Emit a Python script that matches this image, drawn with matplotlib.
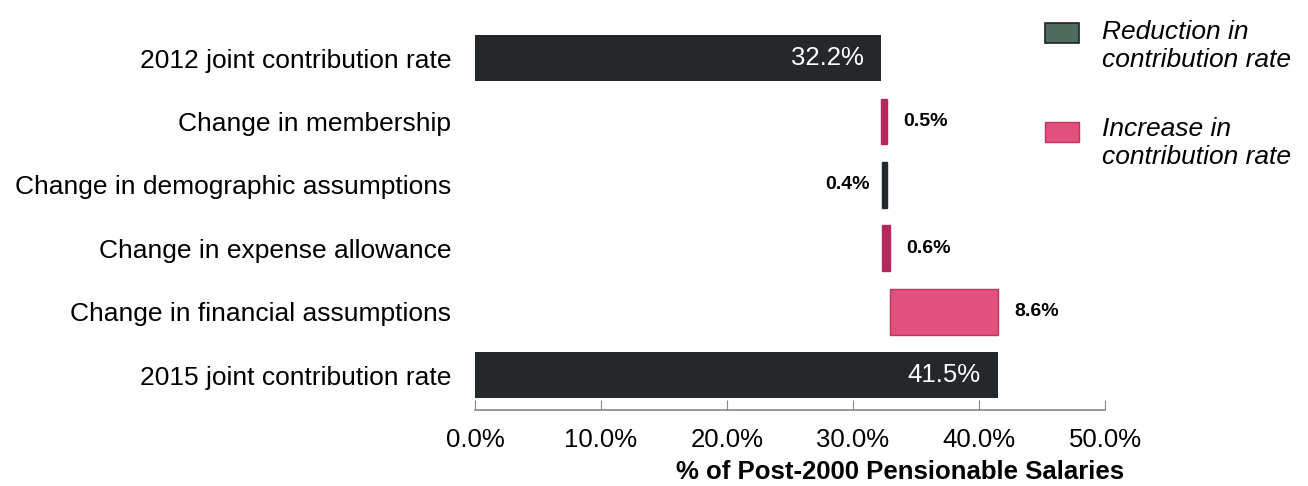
import matplotlib
matplotlib.use("Agg")
import matplotlib.pyplot as plt
from matplotlib.patches import Rectangle

plt.rcParams['font.family'] = ['Liberation Sans', 'DejaVu Sans']

categories = [
    "2012 joint contribution rate",
    "Change in membership",
    "Change in demographic assumptions",
    "Change in expense allowance",
    "Change in financial assumptions",
    "2015 joint contribution rate",
]
start_rate = 32.2
changes = [0.5, -0.4, 0.6, 8.6]
end_rate = 41.5
x_ticks = [0, 10, 20, 30, 40, 50]

dark = "#25282a"
pink_thin = "#b8275c"
pink_fill = "#e2517d"
pink_edge = "#c23262"
legend_dark = "#4e6b5e"

W, H = 1308, 486
fig = plt.figure(figsize=(W / 100, H / 100), dpi=100)
ax = fig.add_axes([475 / W, 1 - 410 / H, (1105 - 475) / W, 390 / H])

h = 0.72
# opening and closing totals
ax.barh(0, start_rate, height=h, color=dark, zorder=3)
ax.barh(5, end_rate, height=h, color=dark, zorder=3)
ax.text(start_rate - 1.35, 0, f"{start_rate:.1f}%", color="white", ha="right",
        va="center", fontsize=18.5)
ax.text(end_rate - 1.35, 5, f"{end_rate:.1f}%", color="white", ha="right",
        va="center", fontsize=18.5)

# incremental changes
level = start_rate
for i, c in enumerate(changes, start=1):
    left = level if c > 0 else level + c
    if c < 0:
        color, edge = dark, dark
    elif c > 5:
        color, edge = pink_fill, pink_edge
    else:
        color, edge = pink_thin, pink_thin
    ax.barh(i, abs(c), left=left, height=h, color=color, edgecolor=edge,
            linewidth=1.0, zorder=3)
    if c > 0:
        ax.text(left + abs(c) + 1.3, i, f"{abs(c):.1f}%", ha="left", va="center",
                fontsize=14, fontweight="bold")
    else:
        ax.text(left - 1.0, i, f"{abs(c):.1f}%", ha="right", va="center",
                fontsize=14, fontweight="bold")
    level += c

ax.set_xlim(0, 50)
ax.set_ylim(5.55, -0.6)
ax.set_yticks(range(len(categories)))
ax.set_yticklabels(categories, fontsize=19)
ax.tick_params(axis="y", length=0, pad=17)
ax.set_xticks(x_ticks)
ax.set_xticklabels([f"{t:.1f}%" for t in x_ticks], fontsize=18.5)
ax.tick_params(axis="x", direction="in", length=7, color="#888888", pad=13)
for s in ["top", "right", "left"]:
    ax.spines[s].set_visible(False)
ax.spines["bottom"].set_color("#888888")
ax.spines["bottom"].set_linewidth(1.2)
ax.set_xlabel("% of Post-2000 Pensionable Salaries", fontsize=18.5,
              fontweight="bold", labelpad=6, x=0.675)

# legend
fig.patches.append(Rectangle((1045 / W, 1 - 43 / H), 34 / W, 20 / H,
                             transform=fig.transFigure, facecolor=legend_dark,
                             edgecolor="#1e2422", linewidth=1.2))
fig.patches.append(Rectangle((1045 / W, 1 - 142 / H), 34 / W, 20 / H,
                             transform=fig.transFigure, facecolor=pink_fill,
                             edgecolor=pink_edge, linewidth=1.0))
fig.text(1102 / W, 1 - 46 / H, "Reduction in\ncontribution rate", fontsize=19,
         style="italic", va="center", ha="left", linespacing=1.2)
fig.text(1102 / W, 1 - 143 / H, "Increase in\ncontribution rate", fontsize=19,
         style="italic", va="center", ha="left", linespacing=1.2)

fig.savefig("out.png", dpi=100)
